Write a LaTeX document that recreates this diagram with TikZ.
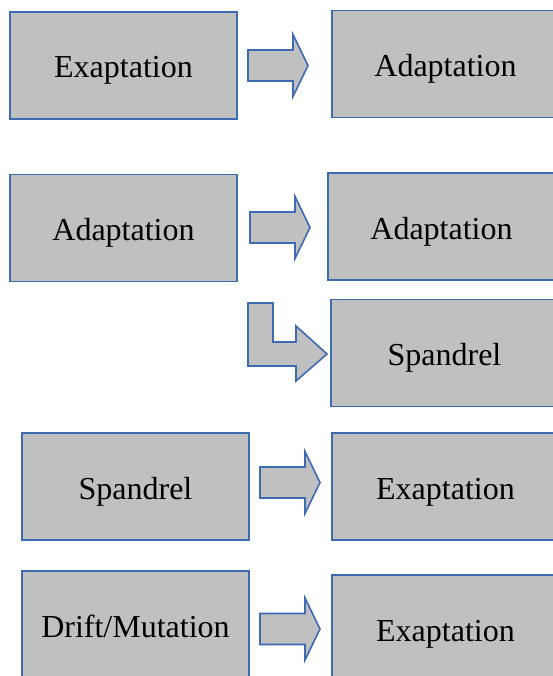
\documentclass[tikz,border=0pt]{standalone}
\usepackage{fontspec}
\setmainfont{Liberation Serif}
\definecolor{boxfill}{RGB}{192,192,192}
\definecolor{boxline}{RGB}{62,106,178}
\begin{document}
\begin{tikzpicture}[x=1pt,y=-1pt,
  blk/.style={draw=boxline,fill=boxfill,line width=1.6pt,minimum width=227pt,minimum height=107pt,inner sep=0pt,text height=32pt,text depth=7pt,font=\fontsize{32}{36}\selectfont},
  arr/.style={draw=boxline,fill=boxfill,line width=1.6pt,line join=miter}]
\useasboundingbox (0,0) rectangle (553,676);
\clip (0,0) rectangle (553,676);
\node[blk] (b1) at (123.5,65.5) {Exaptation};
\node[blk] (b2) at (445.5,64) {Adaptation};
\node[blk] (b3) at (123.5,228) {Adaptation};
\node[blk] (b4) at (441.5,226.5) {Adaptation};
\node[blk] (b5) at (444.5,353) {Spandrel};
\node[blk] (b6) at (135.5,486.5) {Spandrel};
\node[blk] (b7) at (445.5,486.5) {Exaptation};
\node[blk] (b8) at (135.5,624.5) {Drift/Mutation};
\node[blk] (b9) at (445.5,628.5) {Exaptation};
\foreach \tx/\cy in {248/65.5, 250/227.5, 260/482.5, 260/629}{
  \draw[arr] (\tx,\cy-15.5) -- ++(45,0) -- ++(0,-15.5) -- ++(15,31) -- ++(-15,31) -- ++(0,-15.5) -- ++(-45,0) -- cycle;
}
\draw[arr] (248,303) -- (273,303) -- (273,342) -- (296,342) -- (296,326) -- (327,354) -- (296,381) -- (296,366) -- (248,366) -- cycle;
\end{tikzpicture}
\end{document}
